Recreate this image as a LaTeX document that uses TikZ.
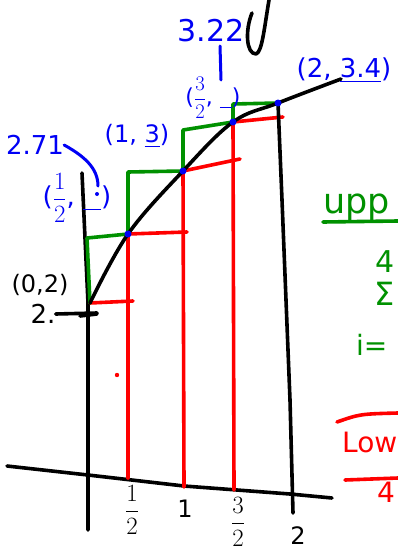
\documentclass[tikz,border=0pt]{standalone}
\usepackage{amsmath}
\usepackage{xcolor}
\usepackage{fontspec}
\setmainfont{DejaVu Sans}
\usepackage{tikz}
\definecolor{penblue}{RGB}{0,0,245}
\definecolor{penred}{RGB}{255,0,0}
\definecolor{pengreen}{RGB}{0,145,0}

\begin{document}
\begin{tikzpicture}[x=1pt,y=-1pt,line cap=round,line join=round,
  ink/.style={line width=3.6pt},
  lowbar/.style={penred,line width=3.6pt},
  upbar/.style={pengreen,line width=3.6pt},
  bluepen/.style={penblue,line width=3pt},
  hand/.style={inner sep=0pt,font=\fontsize{#1}{#1}\selectfont},
  hand/.default=22]
  \useasboundingbox (0,0) rectangle (398,551);
  % points of the curve
  \coordinate (P0) at (90,303);
  \coordinate (P1) at (128,234);
  \coordinate (P2) at (183,171);
  \coordinate (P3) at (233,122);
  \coordinate (P4) at (278,103);
  \coordinate (E) at (341,79);
  % feet on the x axis
  \coordinate (B1) at (128,478);
  \coordinate (B2) at (184,487);
  \coordinate (B3) at (234,490);
  % axes
  \draw[ink] (7,466) -- (88,475) -- (184,486) -- (290,494) -- (332,498);
  \draw[ink] (82,173) -- (88,303) -- (88,530);
  \draw[ink] (80,316) -- (97,314);
  % lower rectangles
  \draw[lowbar] (P1) -- (B1);
  \draw[lowbar] (P2) -- (B2);
  \draw[lowbar] (P3) -- (B3);
  \draw[lowbar] (P0) -- (133,301);
  \draw[lowbar] (P1) -- (187,232);
  \draw[lowbar] (P2) -- (240,159);
  \draw[lowbar] (P3) -- (283,117);
  % upper rectangles
  \draw[upbar] (P0) -- (87,238) -- (P1) -- (128,172) -- (P2) -- (183,130)
    -- (P3) -- (233,104) -- (P4);
  % curve and x = 2
  \draw[ink] plot[smooth,tension=0.6] coordinates {(P0) (P1) (P2) (P3) (P4) (E)};
  \draw[ink] (P4) -- (282,200) -- (286,300) -- (290,400) -- (293,513);
  \draw[ink] (269,0) .. controls (264,30) and (262,52) .. (256,54)
    .. controls (246,54) and (245,30) .. (252,13);
  \foreach \p in {P1,P2,P3,P4} \fill[penblue] (\p) circle (3.5pt);
  \fill[penred] (117,375) circle (2.2pt);
  % x labels
  \node[hand=24] (xa) at (132,510) {\(\dfrac{1}{2}\)};
  \node[hand=24] (xb) at (185,509) {1};
  \node[hand=24] (xc) at (238,522) {\(\dfrac{3}{2}\)};
  \node[hand=24] (xd) at (298,536) {2};
  % blue values
  \node[hand=30,penblue] (v322) at (211,31) {3.22};
  \coordinate (T322) at (221,80);
  \draw[bluepen] (220,46) -- (T322);
  \node[hand=22,penblue] (v32) at (213,98) {(\(\dfrac{3}{2}\), \underline{\hspace{12pt}})};
  \node[hand=24,penblue] (v1) at (137,136) {(1, \underline{3})};
  \node[hand=26,penblue] (v271) at (35,145) {2.71};
  \coordinate (T271) at (98,186);
  \draw[bluepen] (v271.east) .. controls (84,156) and (98,168) .. (T271);
  \fill[penblue] (97,194) circle (2pt);
  \node[hand=26,penblue] (vhalf) at (77,198) {(\(\dfrac{1}{2}\), \underline{\hspace{18pt}})};
  \node[hand=26,penblue] (v2) at (344,70) {(2, \underline{3.4})};
  % start value
  \node[hand=24] (p02) at (40,285) {(0,2)};
  \node[hand=26] (two) at (43,314) {2.};
  \coordinate (T2) at (97,313);
  \draw[ink] (two.east) -- (T2);
  % upper sum
  \node[hand=35,pengreen,anchor=base west] (upper) at (323,213) {upp};
  \draw[upbar] (323,222) -- (398,221);
  \node[hand=30,pengreen] (ulim) at (385,262) {4};
  \node[hand=32,pengreen] (usum) at (385,294) {Σ};
  \node[hand=28,pengreen,anchor=base west] (uidx) at (356,355) {i=};
  % lower sum
  \draw[lowbar] (337,422) .. controls (360,414) .. (398,413);
  \node[hand=28,penred,anchor=base west] (lower) at (342,452) {Low};
  \draw[lowbar] (345,480) -- (398,478);
  \node[hand=28,penred] (llim) at (386,492) {4};
\end{tikzpicture}
\end{document}
